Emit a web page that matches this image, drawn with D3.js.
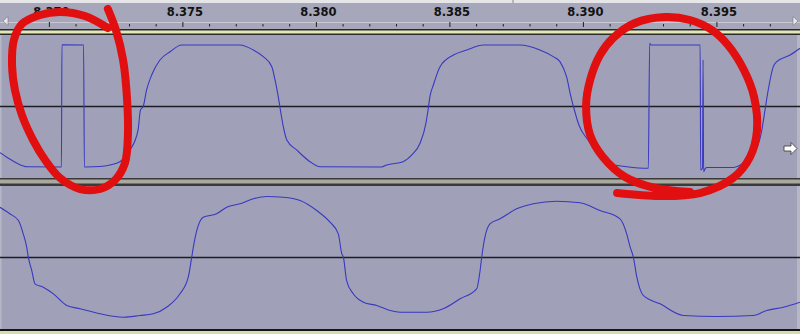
<!DOCTYPE html>
<html><head><meta charset="utf-8">
<script src="https://cdn.jsdelivr.net/npm/d3@7"></script>
<style>html,body{margin:0;padding:0;background:#a1a2b9;overflow:hidden}</style>
</head><body><div id="chart"></div>
<script>
// audacity-style view of two channels, 8.368 s .. 8.398 s
const viewStart = 8.36817, viewEnd = 8.39813;
const majorTicks = [8.370, 8.375, 8.380, 8.385, 8.390, 8.395];
const minorTicks = [8.369,8.371,8.372,8.373,8.374,8.376,8.377,8.378,8.379,8.381,8.382,8.383,8.384,
  8.386,8.387,8.388,8.389,8.391,8.392,8.393,8.394,8.396,8.397];

// channel 1 [time s, amplitude]
const upperWave = [
  [8.36817,-0.646],[8.36847,-0.720],[8.36881,-0.794],[8.36918,-0.842],[8.37047,-0.846],[8.37049,0.864],
  [8.37130,0.860],[8.37133,-0.846],[8.37139,-0.846],[8.37192,-0.840],[8.37229,-0.818],[8.37266,-0.772],
  [8.37304,-0.608],[8.37334,-0.329],[8.37343,-0.049],[8.37353,-0.003],[8.37366,0.231],[8.37385,0.441],
  [8.37416,0.650],[8.37454,0.766],[8.37497,0.860],[8.37716,0.860],[8.37766,0.790],[8.37803,0.697],
  [8.37835,0.557],[8.37847,0.371],[8.37859,0.137],[8.37866,-0.025],[8.37878,-0.283],[8.37891,-0.469],
  [8.37928,-0.608],[8.37978,-0.772],[8.38015,-0.842],[8.38246,-0.846],[8.38265,-0.818],[8.38327,-0.772],
  [8.38359,-0.678],[8.38390,-0.515],[8.38412,-0.235],[8.38421,-0.025],[8.38427,0.137],[8.38440,0.301],
  [8.38465,0.557],[8.38515,0.720],[8.38565,0.790],[8.38627,0.860],[8.38764,0.860],[8.38839,0.790],
  [8.38889,0.697],[8.38914,0.627],[8.38939,0.413],[8.38955,0.137],[8.38968,-0.049],[8.38985,-0.259],
  [8.39019,-0.469],[8.39064,-0.692],[8.39089,-0.794],[8.39164,-0.842],[8.39245,-0.864],[8.39250,0.884],
  [8.39255,0.860],[8.39439,0.860],[8.39441,-0.888],[8.39448,-0.860],[8.39450,0.650],[8.39452,-0.912],
  [8.39458,-0.870],[8.39464,-0.853],[8.39563,-0.853],[8.39607,-0.772],[8.39651,-0.585],[8.39670,-0.329],
  [8.39682,-0.049],[8.39694,0.231],[8.39713,0.557],[8.39726,0.627],[8.39776,0.720],[8.39813,0.814]
];

// channel 2
const lowerWave = [
  [8.36817,0.703],[8.36854,0.611],[8.36886,0.517],[8.36904,0.331],[8.36917,0.144],[8.36923,0.004],
  [8.36936,-0.182],[8.36948,-0.368],[8.36979,-0.415],[8.37017,-0.508],[8.37067,-0.671],[8.37117,-0.717],
  [8.37192,-0.787],[8.37279,-0.835],[8.37341,-0.811],[8.37391,-0.787],[8.37441,-0.695],[8.37491,-0.508],
  [8.37522,-0.276],[8.37535,0.004],[8.37541,0.144],[8.37554,0.378],[8.37578,0.564],[8.37628,0.611],
  [8.37666,0.703],[8.37716,0.751],[8.37766,0.821],[8.37816,0.853],[8.37878,0.843],[8.37941,0.797],
  [8.38003,0.657],[8.38053,0.494],[8.38084,0.331],[8.38097,0.052],[8.38103,0.004],[8.38115,-0.322],
  [8.38140,-0.508],[8.38178,-0.625],[8.38228,-0.671],[8.38278,-0.741],[8.38315,-0.765],[8.38415,-0.765],
  [8.38477,-0.717],[8.38540,-0.578],[8.38602,-0.438],[8.38615,-0.182],[8.38621,0.004],[8.38633,0.284],
  [8.38652,0.471],[8.38690,0.541],[8.38752,0.681],[8.38814,0.751],[8.38902,0.787],[8.38989,0.765],
  [8.39064,0.657],[8.39139,0.541],[8.39164,0.331],[8.39177,0.144],[8.39189,0.004],[8.39202,-0.276],
  [8.39226,-0.531],[8.39289,-0.648],[8.39376,-0.811],[8.39501,-0.825],[8.39638,-0.811],[8.39688,-0.741],
  [8.39750,-0.695],[8.39813,-0.625]
];

// hand-drawn red rings, in channel-1 units
const leftMark = [
  [8.37221,1.364],[8.37251,1.070],[8.37278,0.650],[8.37293,0.091],[8.37296,-0.399],[8.37285,-0.790],
  [8.37248,-1.028],[8.37192,-1.154],[8.37117,-1.154],[8.37042,-1.000],[8.36986,-0.748],[8.36941,-0.469],
  [8.36899,-0.119],[8.36873,0.231],[8.36862,0.580],[8.36869,0.930],[8.36899,1.154],[8.36967,1.280],
  [8.37042,1.322],[8.37135,1.266],[8.37221,1.098]
];
const rightMark = [
  [8.39128,-1.210],[8.39289,-1.252],[8.39439,-1.210],[8.39562,-1.000],[8.39626,-0.706],[8.39652,-0.329],
  [8.39641,0.133],[8.39603,0.510],[8.39543,0.860],[8.39483,1.070],[8.39401,1.210],[8.39307,1.252],
  [8.39195,1.168],[8.39113,0.958],[8.39064,0.720],[8.39027,0.371],[8.39012,0.021],[8.39027,-0.399],
  [8.39075,-0.706],[8.39158,-0.986],[8.39270,-1.140],[8.39401,-1.196]
];

const W = 800, H = 334;
const C = {bg:'#a0a1b8', ruler:'#a6a7ba', wave:'#3838c0', zero:'#1c1c24', red:'#e10f0f', strip:'#e3e6b6'};
const svg = d3.select('#chart').append('svg').attr('width', W).attr('height', H);

const x = d3.scaleLinear().domain([viewStart, viewEnd]).range([0, W]);
const tracks = [{top:35, bot:178, data:upperWave}, {top:186, bot:329, data:lowerWave}];
tracks.forEach(t => t.y = d3.scaleLinear().domain([-1, 1]).range([t.bot, t.top]));

// ruler
svg.append('rect').attr('width', W).attr('height', 30).attr('fill', C.ruler);
svg.append('rect').attr('width', W).attr('height', 3).attr('fill', '#e6e6e8');
svg.append('line').attr('x1', 513).attr('x2', 513).attr('y1', 0).attr('y2', 3).attr('stroke', '#888');
svg.append('line').attr('x1', 0).attr('x2', W).attr('y1', 22.5).attr('y2', 22.5).attr('stroke', '#c9c9d3');
svg.append('g').attr('transform', 'translate(0,26.5)')
  .call(d3.axisTop(x).tickValues(minorTicks).tickSize(2.5).tickFormat(''))
  .call(g => { g.select('.domain').remove(); g.selectAll('line').attr('stroke', '#222'); });
svg.append('g').attr('transform', 'translate(0,27)')
  .call(d3.axisTop(x).tickValues(majorTicks).tickSize(5).tickPadding(6).tickFormat(d3.format('.3f')))
  .call(g => {
    g.select('.domain').remove();
    g.selectAll('line').attr('stroke', '#222');
    g.selectAll('text').attr('fill', '#121212').attr('font-family', 'DejaVu Sans').attr('font-weight', 'bold').attr('font-size', 11.5).attr('dx', 2);
  });
// little scroll arrows
svg.append('path').attr('d', 'M3,21 L8,16.5 L8,25.5 Z').attr('fill', '#e8e8ee').attr('stroke', '#777').attr('stroke-width', .6);
svg.append('path').attr('d', 'M798,21 L793,16.5 L793,25.5 Z').attr('fill', '#e8e8ee').attr('stroke', '#777').attr('stroke-width', .6);

// separators
svg.append('rect').attr('y', 29).attr('width', W).attr('height', 6).attr('fill', '#2a2a2a');
svg.append('rect').attr('y', 30.5).attr('width', W).attr('height', 3).attr('fill', C.strip);
svg.append('rect').attr('y', 178).attr('width', W).attr('height', 8).attr('fill', '#3a3a3a');
svg.append('rect').attr('y', 179.5).attr('width', W).attr('height', 4).attr('fill', '#a9a99f');
svg.append('rect').attr('y', 329).attr('width', W).attr('height', 2).attr('fill', '#151515');
svg.append('rect').attr('y', 331).attr('width', W).attr('height', 3).attr('fill', '#d6dcae');

const line = d3.line().x(d => x(d[0])).curve(d3.curveMonotoneX);
tracks.forEach(t => {
  svg.append('rect').attr('y', t.top).attr('width', W).attr('height', t.bot - t.top).attr('fill', C.bg);
  svg.append('rect').attr('x', 797).attr('y', t.top).attr('width', 3).attr('height', t.bot - t.top).attr('fill', '#b6b7c6');
  svg.append('rect').attr('x', 0).attr('y', t.top).attr('width', 1.5).attr('height', t.bot - t.top).attr('fill', '#b6b7c6');
  svg.append('line').attr('x1', 0).attr('x2', W).attr('y1', t.y(0)).attr('y2', t.y(0))
    .attr('stroke', C.zero).attr('stroke-width', 1.4);
  svg.append('path').attr('d', line.y(d => t.y(d[1]))(t.data))
    .attr('fill', 'none').attr('stroke', C.wave).attr('stroke-width', 1.1);
});

// cursor arrow on right of channel 1
svg.append('path').attr('d', 'M784,146 L791,146 L791,142.5 L797,148.5 L791,154.5 L791,151 L784,151 Z')
  .attr('fill', '#fff').attr('stroke', '#333').attr('stroke-width', .8);

// red rings
const ring = d3.line().x(d => x(d[0])).y(d => tracks[0].y(d[1])).curve(d3.curveCatmullRom);
[leftMark, rightMark].forEach(m => {
  svg.append('path').attr('d', ring(m)).attr('fill', 'none').attr('stroke', C.red)
    .attr('stroke-width', 8).attr('stroke-linecap', 'round').attr('stroke-linejoin', 'round');
});
</script>
</body></html>
